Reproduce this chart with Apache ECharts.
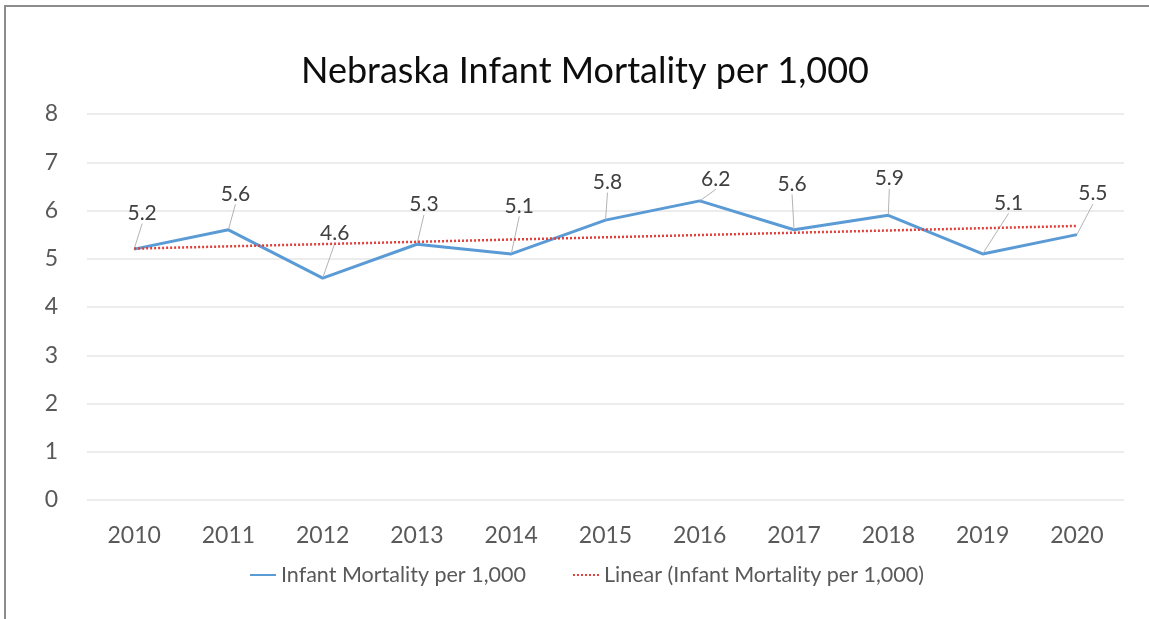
<!DOCTYPE html>
<html>
<head>
<meta charset="utf-8">
<script src="https://cdn.jsdelivr.net/npm/echarts@6/dist/echarts.min.js"></script>
<style>
  html, body { margin: 0; padding: 0; background: #fff; }
  #chart { width: 1149px; height: 619px; }
  .frame {
    position: absolute; left: 4px; top: 5px; width: 1160px; height: 640px;
    border-left: 2px solid #8c8c8c; border-top: 2px solid #8c8c8c;
    pointer-events: none;
  }
</style>
</head>
<body>
<div id="chart"></div>
<div class="frame"></div>
<script>
// data
const years = ["2010", "2011", "2012", "2013", "2014", "2015", "2016", "2017", "2018", "2019", "2020"];
const mortality = [5.2, 5.6, 4.6, 5.3, 5.1, 5.8, 6.2, 5.6, 5.9, 5.1, 5.5];
// trend line end points
const trendYears = ["2010", "2020"];
const trendValues = [5.21, 5.68];
const yTicks = [0, 1, 2, 3, 4, 5, 6, 7, 8];

const seriesName = "Infant Mortality per 1,000";
const trendName = "Linear (Infant Mortality per 1,000)";

// label nudges (layout only) so the callouts sit like the original
const labelShift = [
  [8, -20], [7, -20], [12, -29], [7, -24], [8, -32], [2, -22],
  [16, -6], [-2, -30], [1, -21], [26, -35], [16, -25]
];

const FONT = "Lato";
const chart = echarts.init(document.getElementById("chart"), null, { renderer: "canvas" });

chart.setOption({
  animation: false,
  textStyle: { fontFamily: FONT },
  title: {
    text: "Nebraska Infant Mortality per 1,000",
    left: 296,
    top: 48,
    textStyle: { fontFamily: FONT, fontSize: 36, fontWeight: "normal", color: "#0d0d0d" }
  },
  legend: {
    bottom: 28,
    left: 244,
    itemWidth: 26,
    itemHeight: 4,
    itemGap: 46,
    itemStyle: { opacity: 0 },
    textStyle: { fontFamily: FONT, fontSize: 21.5, color: "#595959" },
    data: [seriesName, trendName]
  },
  grid: { left: 87, right: 25, top: 114, bottom: 119 },
  xAxis: {
    type: "category",
    data: years,
    boundaryGap: true,
    axisLine: { show: false },
    axisTick: { show: false },
    axisLabel: { margin: 24, fontSize: 23, color: "#595959", fontFamily: FONT }
  },
  yAxis: {
    type: "value",
    min: yTicks[0],
    max: yTicks[yTicks.length - 1],
    interval: 1,
    axisLine: { show: false },
    axisTick: { show: false },
    axisLabel: { margin: 29, fontSize: 23, color: "#595959", fontFamily: FONT },
    splitLine: { lineStyle: { color: "#e6e6e6", width: 1.5 } }
  },
  series: [
    {
      name: seriesName,
      type: "line",
      data: mortality,
      symbol: "circle",
      symbolSize: 1,
      lineStyle: { color: "#5b9bd5", width: 3 },
      itemStyle: { color: "#5b9bd5" },
      z: 3,
      label: {
        show: true,
        position: "top",
        fontSize: 21,
        color: "#404040",
        fontFamily: FONT
      },
      labelLine: {
        show: true,
        lineStyle: { color: "#b3b3b3", width: 1 }
      },
      labelLayout: function (p) {
        const s = labelShift[p.dataIndex] || [0, 0];
        return { dx: s[0], dy: s[1] };
      }
    },
    {
      name: trendName,
      type: "line",
      data: trendYears.map((y, i) => [y, trendValues[i]]),
      symbol: "none",
      silent: true,
      z: 4,
      lineStyle: { color: "#e0403a", width: 2.5, type: [2, 2] },
      itemStyle: { color: "#e0403a" }
    }
  ]
});
</script>
</body>
</html>
